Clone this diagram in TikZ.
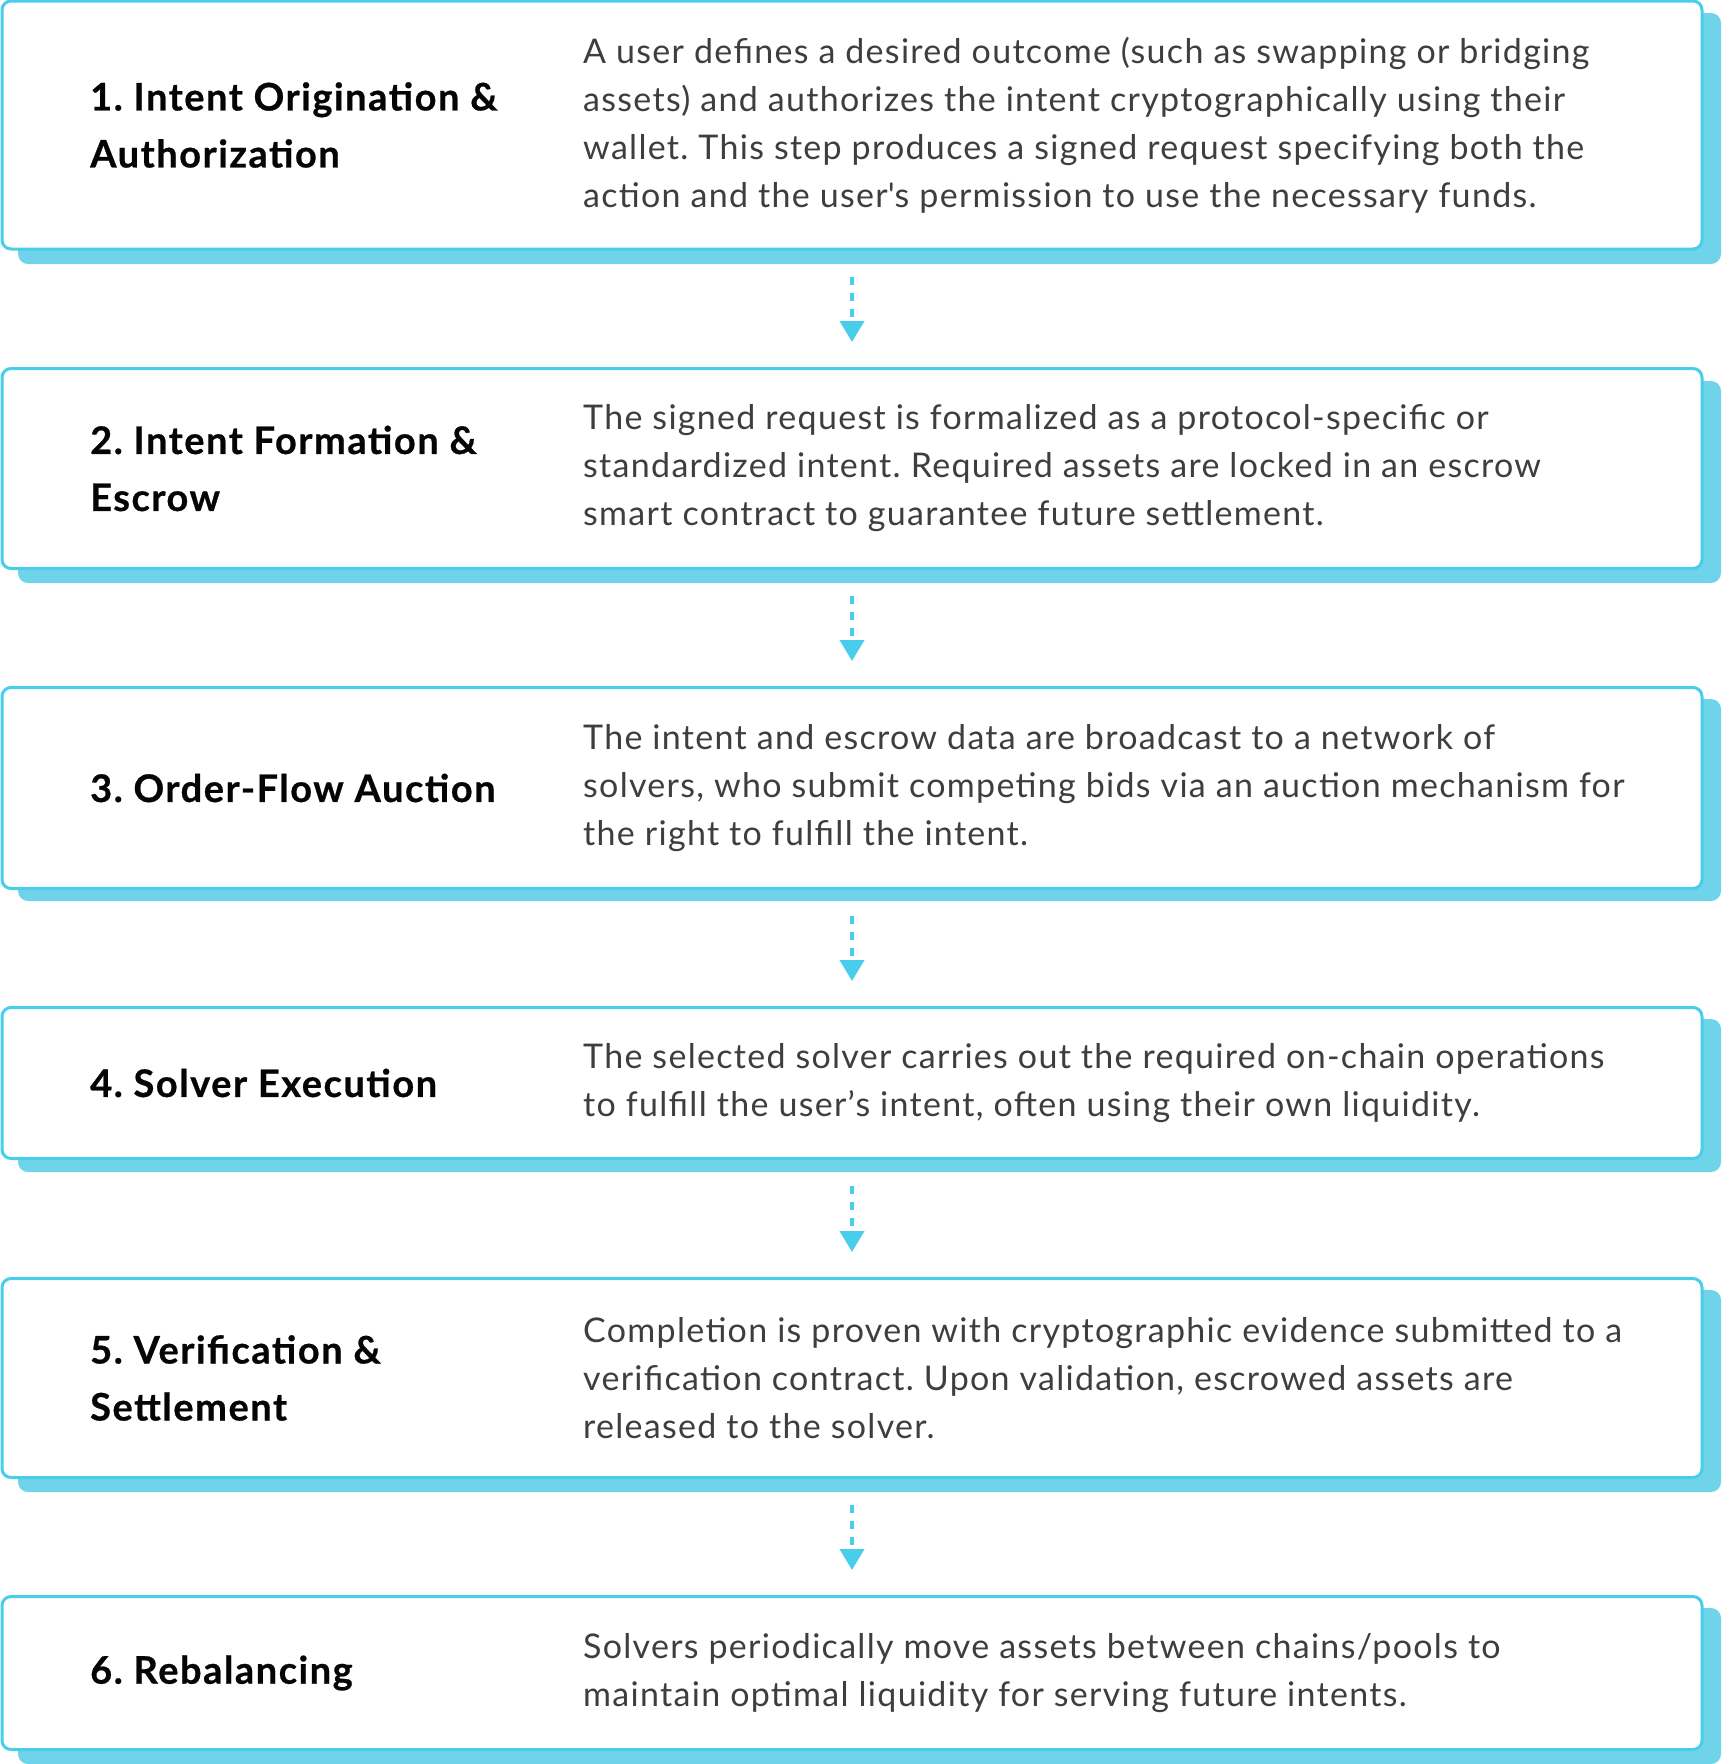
\documentclass[tikz,border=0pt]{standalone}
\usepackage{fontspec}
\setmainfont{Lato}
\newfontfamily\descfont{Lato}[LetterSpace=3.8]
\newfontfamily\titlefont{Lato}[LetterSpace=4, BoldFeatures={FakeBold=0.6}]
\usetikzlibrary{arrows.meta}
\definecolor{bordercol}{HTML}{48CEEA}
\definecolor{shadowcol}{HTML}{6FD4EA}
\definecolor{desccol}{HTML}{3E3E3E}
\definecolor{titlecol}{HTML}{050505}
\frenchspacing
\tikzset{
  box/.style={draw=bordercol, line width=3pt, fill=white, rounded corners=9pt, minimum width=1700pt, inner sep=0pt},
  shadowbox/.style={fill=shadowcol, rounded corners=10pt},
  titletext/.style={anchor=west, align=left, font=\titlefont\bfseries\fontsize{38}{57}\selectfont, text=titlecol, inner sep=0pt},
  desctext/.style={anchor=west, align=left, font=\descfont\fontsize{34}{48}\selectfont, text=desccol, inner sep=0pt},
  flow/.style={draw=bordercol, line width=4pt, dash pattern=on 8pt off 8pt, -{Triangle[width=24pt,length=21pt,fill=bordercol]}}
}
\begin{document}
\begin{tikzpicture}[x=1pt,y=-1pt]
\useasboundingbox (0,0) rectangle (1722,1764);
% shadows
\fill[shadowbox] (18,13) rectangle (1721,264);
\fill[shadowbox] (18,381) rectangle (1721,583);
\fill[shadowbox] (18,699) rectangle (1721,901);
\fill[shadowbox] (18,1019) rectangle (1721,1172);
\fill[shadowbox] (18,1290) rectangle (1721,1492);
\fill[shadowbox] (18,1608) rectangle (1721,1764);
% boxes
\node[box, minimum height=248pt] (b1) at (852,125) {};
\node[box, minimum height=200pt] (b2) at (852,468.5) {};
\node[box, minimum height=201pt] (b3) at (852,788) {};
\node[box, minimum height=151pt] (b4) at (852,1083) {};
\node[box, minimum height=199pt] (b5) at (852,1378) {};
\node[box, minimum height=153pt] (b6) at (852,1673) {};
% titles
\node[titletext] (t1) at (90,125) {1. Intent Origination \&\\Authorization};
\node[titletext] (t2) at (90,468.5) {2. Intent Formation \&\\Escrow};
\node[titletext] (t3) at (90,788) {3. Order-Flow Auction};
\node[titletext] (t4) at (90,1083) {4. Solver Execution};
\node[titletext] (t5) at (90,1378) {5. Verification \&\\Settlement};
\node[titletext] (t6) at (90,1673) {6. Rebalancing};
% descriptions
\node[desctext] (d1) at (583,125) {A user defines a desired outcome (such as swapping or bridging\\assets) and authorizes the intent cryptographically using their\\wallet. This step produces a signed request specifying both the\\action and the user\textquotesingle s permission to use the necessary funds.};
\node[desctext] (d2) at (583,468.5) {The signed request is formalized as a protocol-specific or\\standardized intent. Required assets are locked in an escrow\\smart contract to guarantee future settlement.};
\node[desctext] (d3) at (583,788) {The intent and escrow data are broadcast to a network of\\solvers, who submit competing bids via an auction mechanism for\\the right to fulfill the intent.};
\node[desctext] (d4) at (583,1083) {The selected solver carries out the required on-chain operations\\to fulfill the user’s intent, often using their own liquidity.};
\node[desctext] (d5) at (583,1378) {Completion is proven with cryptographic evidence submitted to a\\verification contract. Upon validation, escrowed assets are\\released to the solver.};
\node[desctext] (d6) at (583,1673) {Solvers periodically move assets between chains/pools to\\maintain optimal liquidity for serving future intents.};
% connectors
\draw[flow] ([yshift=-26pt]b1.south) -- ([yshift=25pt]b2.north);
\draw[flow] ([yshift=-26pt]b2.south) -- ([yshift=25pt]b3.north);
\draw[flow] ([yshift=-26pt]b3.south) -- ([yshift=25pt]b4.north);
\draw[flow] ([yshift=-26pt]b4.south) -- ([yshift=25pt]b5.north);
\draw[flow] ([yshift=-26pt]b5.south) -- ([yshift=25pt]b6.north);
\end{tikzpicture}
\end{document}
